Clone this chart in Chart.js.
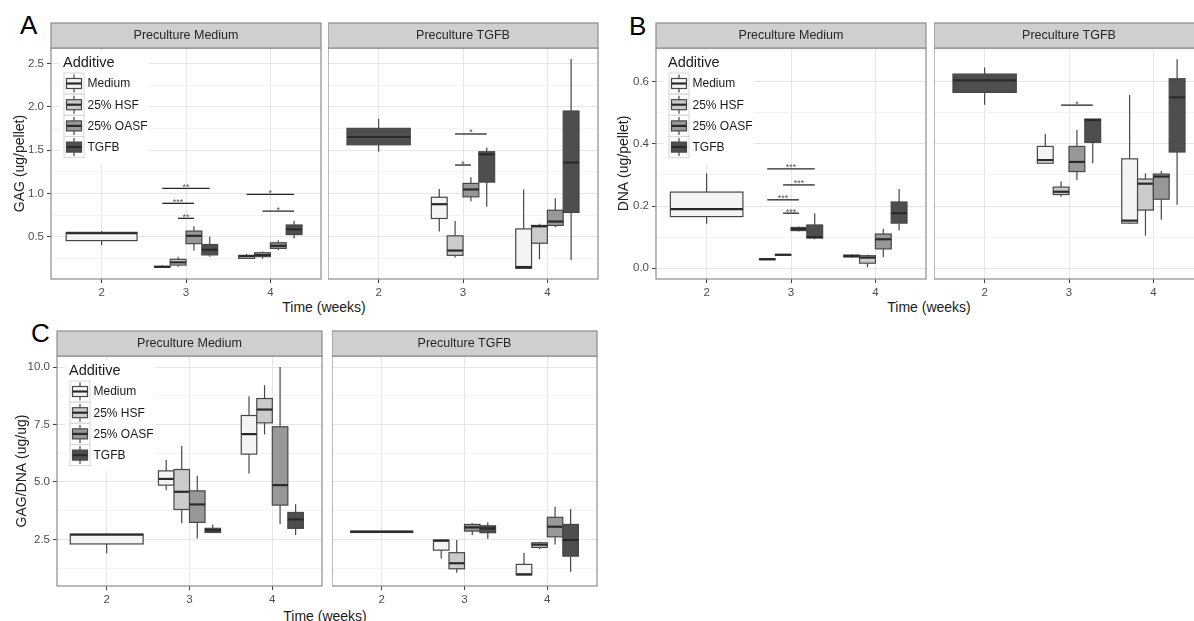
<!DOCTYPE html>
<html>
<head>
<meta charset="utf-8">
<title>GAG and DNA content by additive and preculture</title>
<script src="https://cdn.jsdelivr.net/npm/chart.js@4.4.1/dist/chart.umd.min.js"></script>
<style>
  html, body { margin: 0; padding: 0; background: #ffffff; }
  body { position: relative; width: 1194px; height: 621px; overflow: hidden; }
  .facet { position: absolute; }
  .facet canvas { display: block; }
  .letter { position: absolute; font-family: 'Liberation Sans', Arial, sans-serif; font-size: 26px; line-height: 1; color: #000; }
  .xtitle { position: absolute; font-family: 'Liberation Sans', Arial, sans-serif; font-size: 14px; line-height: 16px; color: #1a1a1a; white-space: nowrap; transform: translateX(-50%); }
</style>
</head>
<body>
<div class="letter" style="left:20px; top:12px;">A</div>
<div class="letter" style="left:629px; top:13px;">B</div>
<div class="letter" style="left:31px; top:320px;">C</div>
<div class="xtitle" style="left:324px; top:299px;">Time (weeks)</div>
<div class="xtitle" style="left:929px; top:299px;">Time (weeks)</div>
<div class="xtitle" style="left:325px; top:608px;">Time (weeks)</div>
<script>
// ---- data -------------------------------------------------------------
const WEEKS = [2, 3, 4];
const ADDITIVES = ['Medium', '25% HSF', '25% OASF', 'TGFB'];

// Five-number summaries [min, q1, median, q3, max]; one row per additive,
// one entry per week (null = group not measured).
const GAG_PRE_MEDIUM = [
  [[0.40, 0.455, 0.54, 0.55, 0.565], [0.15, 0.15, 0.152, 0.158, 0.17], [0.25, 0.25, 0.275, 0.285, 0.30]],
  [null, [0.154, 0.173, 0.204, 0.239, 0.27], [0.245, 0.27, 0.29, 0.315, 0.33]],
  [null, [0.34, 0.42, 0.51, 0.565, 0.62], [0.345, 0.365, 0.395, 0.43, 0.46]],
  [null, [0.27, 0.29, 0.35, 0.41, 0.50], [0.48, 0.525, 0.585, 0.635, 0.685]]
];
const GAG_PRE_TGFB = [
  [null, [0.56, 0.71, 0.875, 0.955, 1.05], [0.13, 0.135, 0.15, 0.59, 1.045]],
  [null, [0.26, 0.285, 0.34, 0.51, 0.68], [0.24, 0.425, 0.62, 0.63, 0.65]],
  [null, [0.91, 0.96, 1.045, 1.115, 1.185], [0.61, 0.63, 0.675, 0.805, 0.945]],
  [[1.48, 1.56, 1.65, 1.75, 1.86], [0.845, 1.13, 1.45, 1.48, 1.53], [0.23, 0.78, 1.355, 1.95, 2.55]]
];
const DNA_PRE_MEDIUM = [
  [[0.143, 0.166, 0.19, 0.245, 0.305], [0.026, 0.027, 0.029, 0.030, 0.031], [0.034, 0.036, 0.039, 0.042, 0.044]],
  [null, [0.041, 0.042, 0.043, 0.044, 0.045], [0.003, 0.016, 0.034, 0.040, 0.043]],
  [null, [0.118, 0.121, 0.126, 0.131, 0.134], [0.035, 0.062, 0.093, 0.11, 0.127]],
  [null, [0.093, 0.097, 0.10, 0.139, 0.177], [0.121, 0.145, 0.177, 0.213, 0.255]]
];
const DNA_PRE_TGFB = [
  [null, [0.335, 0.338, 0.348, 0.392, 0.433], [0.142, 0.145, 0.153, 0.352, 0.558]],
  [null, [0.23, 0.237, 0.246, 0.261, 0.279], [0.104, 0.187, 0.272, 0.287, 0.306]],
  [null, [0.284, 0.311, 0.342, 0.392, 0.445], [0.156, 0.222, 0.295, 0.303, 0.313]],
  [[0.526, 0.566, 0.605, 0.625, 0.646], [0.338, 0.405, 0.477, 0.48, 0.48], [0.204, 0.374, 0.55, 0.61, 0.673]]
];
const RATIO_PRE_MEDIUM = [
  [[1.89, 2.3, 2.7, 2.73, 2.76], [4.64, 4.86, 5.13, 5.48, 5.95], [5.37, 6.21, 7.08, 7.89, 8.73]],
  [null, [3.2, 3.8, 4.57, 5.54, 6.56], [7.06, 7.57, 8.15, 8.63, 9.21]],
  [null, [2.54, 3.24, 4.02, 4.61, 5.27], [3.17, 3.99, 4.86, 7.4, 10.0]],
  [null, [2.78, 2.8, 2.9, 2.98, 3.15], [2.69, 2.98, 3.37, 3.67, 4.03]]
];
const RATIO_PRE_TGFB = [
  [null, [1.67, 2.03, 2.44, 2.47, 2.5], [0.95, 0.95, 0.98, 1.41, 1.92]],
  [null, [1.05, 1.22, 1.46, 1.92, 2.47], [2.07, 2.15, 2.27, 2.35, 2.4]],
  [null, [2.69, 2.86, 3.02, 3.15, 3.2], [2.28, 2.61, 3.05, 3.46, 3.92]],
  [[2.8, 2.8, 2.83, 2.86, 2.87], [2.53, 2.79, 2.98, 3.09, 3.24], [1.09, 1.77, 2.47, 3.15, 3.82]]
];

// Significance brackets: [week, from additive, to additive, height, label]
const GAG_PRE_MEDIUM_SIG = [[3, 0, 3, 1.058, '**'], [3, 0, 2, 0.885, '***'], [3, 1, 2, 0.712, '**'],
                            [4, 0, 3, 0.989, '*'], [4, 1, 3, 0.796, '*']];
const GAG_PRE_TGFB_SIG = [[3, 1, 3, 1.685, '*'], [3, 1, 2, 1.327, '*']];
const DNA_PRE_MEDIUM_SIG = [[3, 0, 3, 0.320, '***'], [3, 1, 3, 0.268, '***'],
                            [3, 0, 2, 0.220, '***'], [3, 1, 2, 0.177, '***']];
const DNA_PRE_TGFB_SIG = [[3, 1, 3, 0.525, '*']];
const RATIO_PRE_MEDIUM_SIG = [];
const RATIO_PRE_TGFB_SIG = [];

// Axis breaks and limits
const GAG_TICKS = [0.5, 1.0, 1.5, 2.0, 2.5];
const GAG_MINOR = [0.25, 0.75, 1.25, 1.75, 2.25];
const DNA_TICKS = [0.0, 0.2, 0.4, 0.6];
const DNA_MINOR = [0.1, 0.3, 0.5, 0.7];
const RATIO_TICKS = [2.5, 5.0, 7.5, 10.0];
const RATIO_MINOR = [1.25, 3.75, 6.25, 8.75];
const GAG_RANGE = [0.012, 2.677];
const DNA_RANGE = [-0.035, 0.709];
const RATIO_RANGE = [0.47, 10.48];
const WEEK_RANGE = [1.4, 4.6];

// ---- styling ------------------------------------------------------------
const FONT = "'Liberation Sans', Arial, Helvetica, sans-serif";
const FILLS = ['#f4f4f4', '#cbcbcb', '#989898', '#4e4e4e'];
const OUTLINE = '#474747';
const MEDIAN = '#2a2a2a';
const BORDER = '#8c8c8c';
const STRIP_FILL = '#cfcfcf';
const GRID_MAJOR = '#e6e6e6';
const GRID_MINOR = '#f3f3f3';
const TICK_TEXT = '#4d4d4d';
const DODGE = 0.75;
const STRIP_H = 25;
const X_AXIS_H = 21;

function dodgeCenter(week, k, n) {
  const w = DODGE / n;
  return week - DODGE / 2 + (k + 0.5) * w;
}

function drawBoxGlyph(ctx, xl, xr, pMin, pQ1, pMed, pQ3, pMax, fill) {
  const xm = (xl + xr) / 2;
  ctx.strokeStyle = OUTLINE;
  ctx.lineWidth = 1.2;
  ctx.beginPath();
  ctx.moveTo(xm, pMax); ctx.lineTo(xm, pQ3);
  ctx.moveTo(xm, pQ1); ctx.lineTo(xm, pMin);
  ctx.stroke();
  ctx.fillStyle = fill;
  ctx.fillRect(xl, pQ3, xr - xl, pQ1 - pQ3);
  ctx.strokeRect(xl, pQ3, xr - xl, pQ1 - pQ3);
  ctx.strokeStyle = MEDIAN;
  ctx.lineWidth = 2.2;
  ctx.beginPath();
  ctx.moveTo(xl, pMed); ctx.lineTo(xr, pMed);
  ctx.stroke();
}

function facetPlugin(cfg) {
  return {
    id: 'facet',
    afterDraw(chart) {
      const ctx = chart.ctx, area = chart.chartArea;
      const xs = chart.scales.x, ys = chart.scales.y;
      const sets = chart.data.datasets;
      ctx.save();

      // box plots
      sets.forEach((ds, k) => {
        ds.data.forEach(pt => {
          const present = sets.filter(d => d.data.some(p => p.x === pt.x)).length;
          const w = present === 1 ? cfg.singleWidth : DODGE / present;
          const c = present === 1 ? pt.x : dodgeCenter(pt.x, k, present);
          const xl = xs.getPixelForValue(c - w / 2);
          const xr = xs.getPixelForValue(c + w / 2);
          const p = pt.stats.map(v => ys.getPixelForValue(v));
          drawBoxGlyph(ctx, xl, xr, p[0], p[1], p[2], p[3], p[4], ds.backgroundColor);
        });
      });

      // significance brackets
      cfg.sig.forEach(([week, from, to, y, label]) => {
        const x1 = xs.getPixelForValue(dodgeCenter(week, from, ADDITIVES.length));
        const x2 = xs.getPixelForValue(dodgeCenter(week, to, ADDITIVES.length));
        const py = ys.getPixelForValue(y);
        ctx.strokeStyle = '#262626';
        ctx.lineWidth = 1.3;
        ctx.beginPath();
        ctx.moveTo(x1, py); ctx.lineTo(x2, py);
        ctx.stroke();
        ctx.fillStyle = '#555555';
        ctx.font = '9px ' + FONT;
        ctx.textAlign = 'center';
        ctx.textBaseline = 'alphabetic';
        ctx.fillText(label, (x1 + x2) / 2, py + 1.5);
      });

      // legend inside the panel
      if (cfg.legend) {
        const lx = area.left, ly = area.top;
        ctx.fillStyle = '#ffffff';
        ctx.fillRect(lx + 8, ly + 4, 90, 111);
        ctx.fillStyle = '#1a1a1a';
        ctx.font = '14.5px ' + FONT;
        ctx.textAlign = 'left';
        ctx.textBaseline = 'middle';
        ctx.fillText('Additive', lx + 12, ly + 15);
        ADDITIVES.forEach((name, k) => {
          const cy = ly + 35.5 + k * 21.2;
          const kx = lx + 13;
          ctx.fillStyle = '#ffffff';
          ctx.fillRect(kx, cy - 10.5, 20, 21);
          ctx.strokeStyle = '#d6d6d6';
          ctx.lineWidth = 1;
          ctx.strokeRect(kx, cy - 10.5, 20, 21);
          drawBoxGlyph(ctx, kx + 2.5, kx + 17.5, cy + 9, cy + 5, cy, cy - 5, cy - 9, FILLS[k]);
          ctx.fillStyle = '#1a1a1a';
          ctx.font = '12px ' + FONT;
          ctx.textAlign = 'left';
          ctx.textBaseline = 'middle';
          ctx.fillText(name, lx + 36.5, cy + 0.5);
        });
      }

      // panel border
      ctx.strokeStyle = BORDER;
      ctx.lineWidth = 1.2;
      ctx.strokeRect(area.left, area.top, area.right - area.left, area.bottom - area.top);

      // facet strip
      ctx.fillStyle = STRIP_FILL;
      ctx.fillRect(area.left, area.top - STRIP_H, area.right - area.left, STRIP_H);
      ctx.strokeRect(area.left, area.top - STRIP_H, area.right - area.left, STRIP_H);
      ctx.fillStyle = '#262626';
      ctx.font = '12.5px ' + FONT;
      ctx.textAlign = 'center';
      ctx.textBaseline = 'middle';
      ctx.fillText(cfg.strip, (area.left + area.right) / 2, area.top - STRIP_H / 2 + 0.5);

      ctx.restore();
    }
  };
}

function addFacet(f) {
  const cw = f.yAxisW + f.w + 2;
  const ch = STRIP_H + 1 + f.h + X_AXIS_H;
  const wrap = document.createElement('div');
  wrap.className = 'facet';
  wrap.style.left = (f.left - f.yAxisW) + 'px';
  wrap.style.top = (f.top - STRIP_H - 1) + 'px';
  const canvas = document.createElement('canvas');
  canvas.width = cw; canvas.height = ch;
  canvas.style.width = cw + 'px'; canvas.style.height = ch + 'px';
  wrap.appendChild(canvas);
  document.body.appendChild(wrap);

  const major = f.ticks;
  const isMajor = v => major.some(m => Math.abs(m - v) < 1e-9);
  const yValues = major.concat(f.minor).sort((a, b) => a - b);
  const showY = f.yAxisW > 0;

  const datasets = ADDITIVES.map((name, k) => ({
    label: name,
    backgroundColor: FILLS[k],
    pointRadius: 0,
    pointHoverRadius: 0,
    data: WEEKS.map((wk, i) => f.stats[k][i] ? { x: wk, y: f.stats[k][i][2], stats: f.stats[k][i] } : null)
               .filter(Boolean)
  }));

  new Chart(canvas, {
    type: 'scatter',
    data: { datasets },
    options: {
      responsive: false,
      animation: false,
      devicePixelRatio: 1,
      events: [],
      layout: { padding: { top: STRIP_H + 1, left: 0, right: 2, bottom: 0 } },
      plugins: { legend: { display: false }, tooltip: { enabled: false } },
      scales: {
        x: {
          type: 'linear',
          min: WEEK_RANGE[0], max: WEEK_RANGE[1],
          afterBuildTicks: s => { s.ticks = WEEKS.map(v => ({ value: v })); },
          afterFit: s => { s.height = X_AXIS_H; },
          ticks: { autoSkip: false, maxRotation: 0, padding: 3, color: TICK_TEXT,
                   font: { family: FONT, size: 11.5 }, callback: v => String(v) },
          grid: { color: GRID_MAJOR, lineWidth: 1, tickLength: 4, tickColor: '#444444', drawTicks: true },
          border: { display: false }
        },
        y: {
          type: 'linear',
          min: f.range[0], max: f.range[1],
          afterBuildTicks: s => { s.ticks = yValues.map(v => ({ value: v })); },
          afterFit: s => { s.width = f.yAxisW; },
          ticks: { display: showY, autoSkip: false, padding: 3, color: TICK_TEXT,
                   font: { family: FONT, size: 11.5 },
                   callback: v => isMajor(v) ? Number(v).toFixed(1) : '' },
          grid: {
            color: c => (c.tick && isMajor(c.tick.value)) ? GRID_MAJOR : GRID_MINOR,
            tickColor: c => (c.tick && isMajor(c.tick.value)) ? '#444444' : 'rgba(0,0,0,0)',
            lineWidth: 1, tickLength: 4, drawTicks: showY
          },
          title: { display: !!f.yTitle, text: f.yTitle || '', color: '#222222',
                   font: { family: FONT, size: 14 }, padding: { top: f.titlePad || 0, bottom: 0 } },
          border: { display: false }
        }
      }
    },
    plugins: [facetPlugin({ sig: f.sig, strip: f.strip, legend: !!f.legend, singleWidth: f.singleWidth })]
  });
}

const FACETS = [
  { left: 51,  top: 48,  w: 270, h: 231, yAxisW: 51, titlePad: 11.6, yTitle: 'GAG (ug/pellet)',
    strip: 'Preculture Medium', stats: GAG_PRE_MEDIUM, sig: GAG_PRE_MEDIUM_SIG,
    ticks: GAG_TICKS, minor: GAG_MINOR, range: GAG_RANGE, legend: true, singleWidth: 0.84 },
  { left: 328, top: 48,  w: 270, h: 231, yAxisW: 0,
    strip: 'Preculture TGFB', stats: GAG_PRE_TGFB, sig: GAG_PRE_TGFB_SIG,
    ticks: GAG_TICKS, minor: GAG_MINOR, range: GAG_RANGE, singleWidth: 0.75 },
  { left: 656, top: 48,  w: 270, h: 231, yAxisW: 51, titlePad: 10.6, yTitle: 'DNA (ug/pellet)',
    strip: 'Preculture Medium', stats: DNA_PRE_MEDIUM, sig: DNA_PRE_MEDIUM_SIG,
    ticks: DNA_TICKS, minor: DNA_MINOR, range: DNA_RANGE, legend: true, singleWidth: 0.86 },
  { left: 934, top: 48,  w: 270, h: 231, yAxisW: 0,
    strip: 'Preculture TGFB', stats: DNA_PRE_TGFB, sig: DNA_PRE_TGFB_SIG,
    ticks: DNA_TICKS, minor: DNA_MINOR, range: DNA_RANGE, singleWidth: 0.75 },
  { left: 57,  top: 356, w: 265, h: 230, yAxisW: 57, titlePad: 13.3, yTitle: 'GAG/DNA (ug/ug)',
    strip: 'Preculture Medium', stats: RATIO_PRE_MEDIUM, sig: RATIO_PRE_MEDIUM_SIG,
    ticks: RATIO_TICKS, minor: RATIO_MINOR, range: RATIO_RANGE, legend: true, singleWidth: 0.88 },
  { left: 332, top: 356, w: 265, h: 230, yAxisW: 0,
    strip: 'Preculture TGFB', stats: RATIO_PRE_TGFB, sig: RATIO_PRE_TGFB_SIG,
    ticks: RATIO_TICKS, minor: RATIO_MINOR, range: RATIO_RANGE, singleWidth: 0.75 }
];

FACETS.forEach(addFacet);
</script>
</body>
</html>
